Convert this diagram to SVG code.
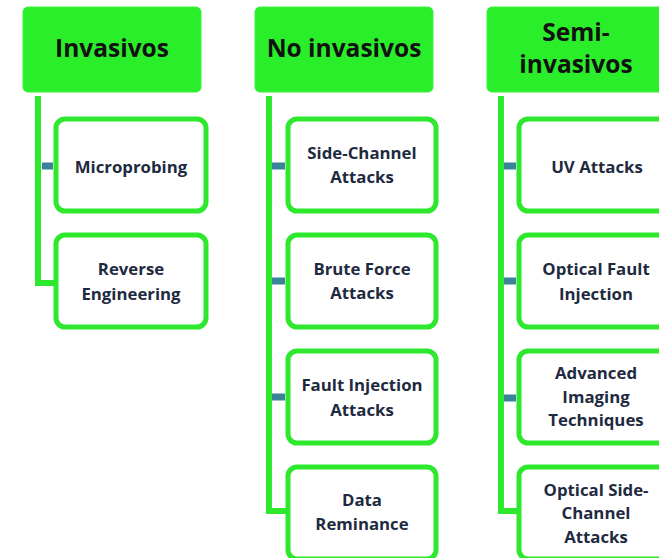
<svg xmlns="http://www.w3.org/2000/svg" width="659" height="558" viewBox="0 0 659 558">
<style>
.hdr{fill:#2bee2b;stroke:#3ef03e;stroke-width:1}
.box{fill:#fff;stroke:#2de82d;stroke-width:5}
.ht{font-family:"Open Sans","Liberation Sans",sans-serif;font-weight:bold;font-size:24.5px;fill:#111;text-anchor:middle}
.ct{font-family:"Open Sans","Liberation Sans",sans-serif;font-weight:bold;font-size:16.8px;fill:#1e2a40;text-anchor:middle}
.ln{fill:none;stroke:#2de82d;stroke-width:6}
.tk{stroke:#3b8399;stroke-width:7}
</style>
<rect width="659" height="558" fill="#fff"/>
<g id="connectors">
<path class="ln" d="M38,96 V283 H56"/>
<path class="ln" d="M269,96 V511 H288"/>
<path class="ln" d="M501,96 V511 H519"/>
<line class="tk" x1="42" y1="166" x2="53" y2="166"/>
<line class="tk" x1="272" y1="166" x2="285" y2="166"/>
<line class="tk" x1="272" y1="281" x2="285" y2="281"/>
<line class="tk" x1="272" y1="397" x2="285" y2="397"/>
<line class="tk" x1="504" y1="166" x2="516" y2="166"/>
<line class="tk" x1="504" y1="281" x2="516" y2="281"/>
<line class="tk" x1="504" y1="398" x2="516" y2="398"/>
</g>
<g id="h1"><rect class="hdr" x="23" y="7" width="178" height="85" rx="5"/><text class="ht" x="112" y="57">Invasivos</text></g>
<g id="h2"><rect class="hdr" x="255" y="7" width="178" height="85" rx="5"/><text class="ht" x="344" y="57">No invasivos</text></g>
<g id="h3"><rect class="hdr" x="487" y="7" width="178" height="85" rx="5"/><text class="ht" x="576" y="41">Semi-</text><text class="ht" x="576" y="73">invasivos</text></g>
<g id="n1"><rect class="box" x="56" y="119" width="150" height="92" rx="9"/><text class="ct" x="131" y="173">Microprobing</text></g>
<g id="n2"><rect class="box" x="56" y="235" width="150" height="92" rx="9"/><text class="ct" x="131" y="275">Reverse</text><text class="ct" x="131" y="300">Engineering</text></g>
<g id="n3"><rect class="box" x="288" y="119" width="148" height="92" rx="9"/><text class="ct" x="362" y="159">Side-Channel</text><text class="ct" x="362" y="183">Attacks</text></g>
<g id="n4"><rect class="box" x="288" y="235" width="148" height="92" rx="9"/><text class="ct" x="362" y="275">Brute Force</text><text class="ct" x="362" y="299">Attacks</text></g>
<g id="n5"><rect class="box" x="288" y="351" width="148" height="92" rx="9"/><text class="ct" x="362" y="391">Fault Injection</text><text class="ct" x="362" y="416">Attacks</text></g>
<g id="n6"><rect class="box" x="288" y="467" width="148" height="92" rx="9"/><text class="ct" x="362" y="506">Data</text><text class="ct" x="362" y="530">Reminance</text></g>
<g id="n7"><rect class="box" x="519" y="119" width="150" height="92" rx="9"/><text class="ct" x="597" y="173">UV Attacks</text></g>
<g id="n8"><rect class="box" x="519" y="235" width="150" height="92" rx="9"/><text class="ct" x="596" y="275">Optical Fault</text><text class="ct" x="596" y="300">Injection</text></g>
<g id="n9"><rect class="box" x="519" y="351" width="150" height="92" rx="9"/><text class="ct" x="596" y="379">Advanced</text><text class="ct" x="596" y="403">Imaging</text><text class="ct" x="596" y="426">Techniques</text></g>
<g id="n10"><rect class="box" x="519" y="467" width="150" height="92" rx="9"/><text class="ct" x="596" y="496">Optical Side-</text><text class="ct" x="596" y="519">Channel</text><text class="ct" x="596" y="543">Attacks</text></g>
</svg>
